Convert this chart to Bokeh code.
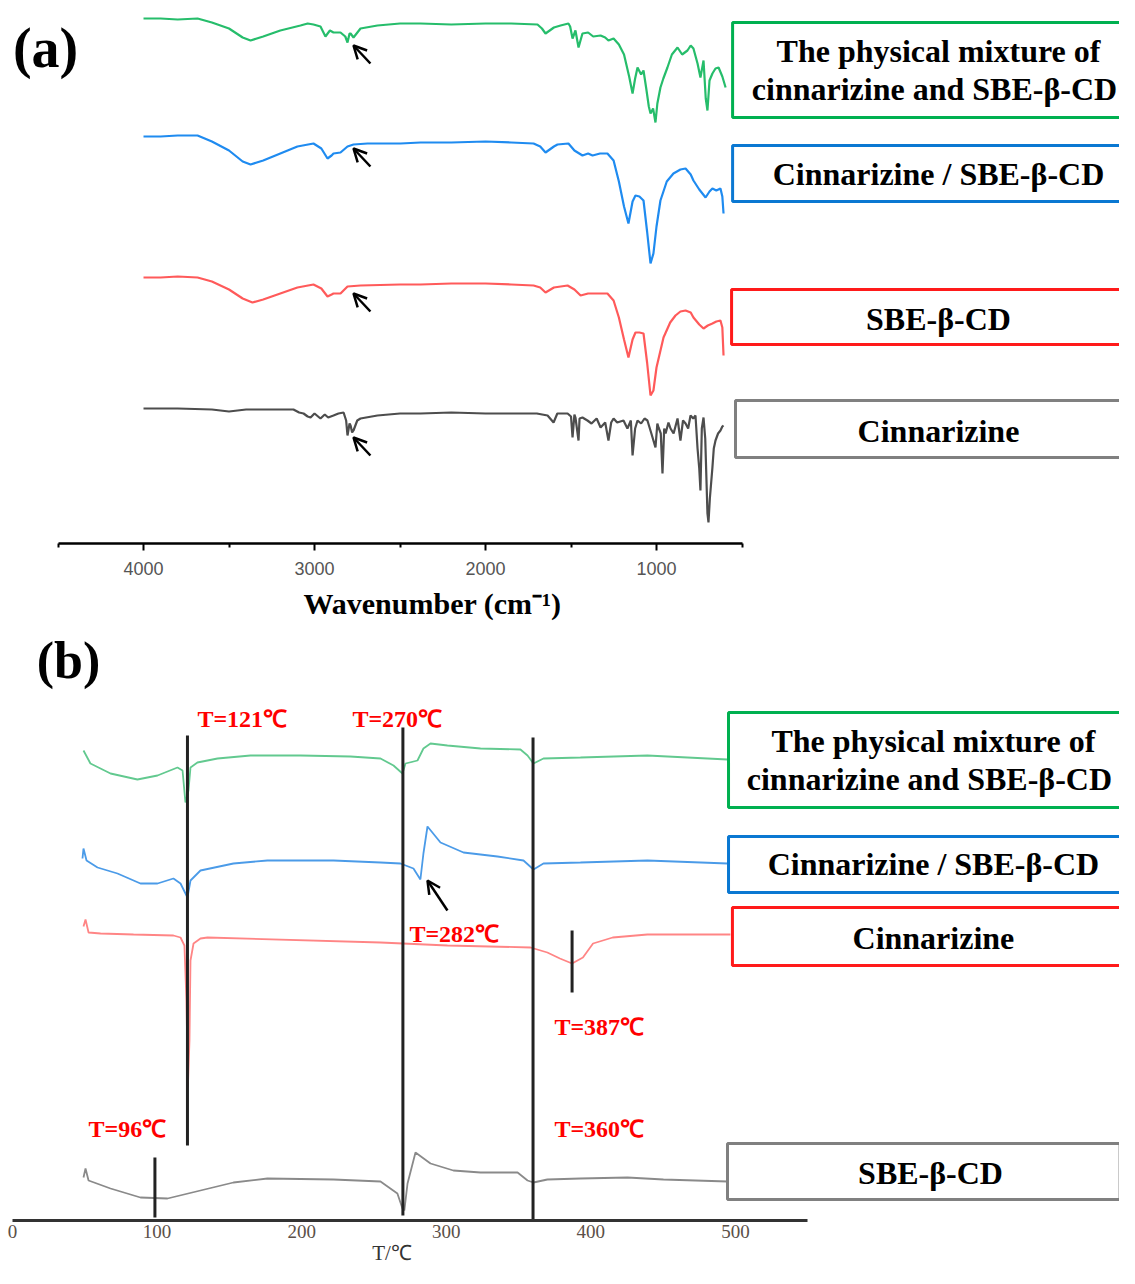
from bokeh.plotting import figure
from bokeh.layouts import column
from bokeh.models import Range1d, FixedTicker, Arrow, OpenHead
from bokeh.core.properties import value
from bokeh.embed import file_html
from bokeh.resources import INLINE

SERIF = value("Liberation Serif")

# ---------------- (a) FTIR spectra: wavenumber (cm-1), relative transmittance (a.u.)
mix_wn = [4000, 3900, 3800, 3684, 3600, 3500, 3420, 3374, 3300, 3200,
          3082, 3040, 3006, 2965, 2936, 2910, 2889, 2848, 2820, 2807,
          2795, 2789, 2772, 2731, 2632, 2500, 2380, 2200, 2000, 1850,
          1696, 1670, 1649, 1600, 1561, 1515, 1505, 1491, 1474, 1456,
          1433, 1400, 1370, 1327, 1300, 1281, 1251, 1220, 1190, 1160,
          1140, 1125, 1111, 1090, 1076, 1060, 1045, 1035, 1020, 1006,
          995, 977, 960, 936, 910, 877, 850, 819, 800, 784,
          760, 743, 725, 712, 702, 690, 673, 655, 637, 615,
          596]
mix_t = [0, 0, -1, 0, -4, -10, -19, -22, -18, -12,
         -7, -5, -6, -8, -18, -12, -14, -14, -18, -24,
         -15, -15, -19, -10, -7, -5, -5, -6, -5, -5,
         -6, -10, -15, -9, -7, -5, -8, -20, -12, -29,
         -15, -14, -18, -17, -19, -22, -20, -26, -36, -58,
         -75, -60, -49, -56, -52, -70, -88, -95, -90, -104,
         -85, -69, -60, -49, -36, -29, -36, -32, -27, -30,
         -45, -59, -42, -80, -92, -62, -55, -50, -49, -58,
         -69]

inc_wn = [4000, 3900, 3800, 3684, 3600, 3500, 3420, 3374, 3300, 3200,
          3100, 3006, 2960, 2924, 2900, 2889, 2848, 2807, 2772, 2690,
          2497, 2380, 2200, 2000, 1850, 1719, 1680, 1649, 1600, 1579,
          1515, 1480, 1433, 1400, 1374, 1330, 1287, 1251, 1220, 1190,
          1164, 1140, 1123, 1100, 1076, 1055, 1035, 1018, 1000, 977,
          940, 901, 860, 830, 800, 784, 750, 713, 690, 673,
          650, 626, 615, 608]
inc_t = [0, 0, 1, 1, -5, -14, -25, -28, -24, -17,
         -10, -7, -12, -22, -19, -17, -16, -10, -8, -7,
         -7, -6, -6, -5, -6, -7, -10, -16, -10, -8,
         -7, -14, -19, -17, -19, -17, -17, -24, -45, -70,
         -87, -65, -59, -60, -64, -95, -127, -117, -90, -64,
         -45, -37, -33, -32, -38, -44, -53, -61, -55, -52,
         -54, -52, -60, -77]

sbe_wn = [4000, 3900, 3800, 3684, 3600, 3500, 3420, 3363, 3300, 3200,
          3100, 3006, 2960, 2924, 2900, 2889, 2848, 2807, 2731, 2500,
          2380, 2200, 2000, 1850, 1719, 1680, 1649, 1600, 1520, 1480,
          1444, 1400, 1330, 1287, 1251, 1220, 1190, 1164, 1140, 1123,
          1100, 1076, 1055, 1035, 1018, 1000, 959, 920, 889, 860,
          830, 800, 784, 750, 725, 700, 673, 650, 626, 615,
          608]
sbe_t = [0, 0, 1, 0, -4, -12, -21, -25, -22, -16,
         -10, -7, -11, -19, -17, -16, -16, -9, -8, -7,
         -7, -6, -6, -7, -8, -10, -15, -10, -8, -12,
         -18, -16, -16, -16, -23, -40, -62, -80, -62, -55,
         -55, -56, -85, -118, -113, -90, -60, -45, -38, -34,
         -33, -35, -40, -47, -51, -48, -46, -44, -43, -50,
         -78]

cin_wn = [4000, 3800, 3600, 3500, 3400, 3200, 3123, 3090, 3064, 3040,
          3023, 3000, 2965, 2940, 2920, 2889, 2860, 2830, 2815, 2807,
          2795, 2789, 2780, 2772, 2750, 2731, 2632, 2500, 2380, 2200,
          2000, 1800, 1700, 1637, 1602, 1580, 1520, 1500, 1491, 1480,
          1474, 1456, 1450, 1433, 1404, 1380, 1350, 1327, 1300, 1281,
          1265, 1251, 1230, 1193, 1170, 1150, 1140, 1125, 1111, 1090,
          1070, 1053, 1030, 1006, 995, 988, 975, 965, 955, 947,
          930, 918, 900, 877, 860, 845, 830, 815, 801, 785,
          772, 760, 750, 743, 735, 725, 715, 702, 696, 688,
          673, 665, 655, 640, 626, 615, 608]
cin_t = [0, 0, -1, -3, -1, -1, -1, -4, -5, -8,
         -9, -5, -10, -6, -9, -7, -5, -4, -12, -27,
         -15, -17, -24, -22, -12, -10, -7, -5, -5, -4,
         -5, -5, -5, -7, -14, -5, -5, -8, -29, -6,
         -9, -32, -10, -9, -12, -15, -10, -19, -14, -32,
         -14, -10, -14, -12, -20, -12, -47, -20, -12, -15,
         -10, -12, -25, -39, -15, -19, -25, -65, -20, -25,
         -14, -20, -25, -10, -32, -12, -15, -20, -7, -10,
         -7, -40, -60, -82, -20, -9, -30, -105, -114, -90,
         -59, -40, -32, -25, -22, -18, -17]

ftir_lines = [["The physical mixture of", "cinnarizine  and SBE-\u03b2-CD"],
              ["Cinnarizine / SBE-\u03b2-CD"], ["SBE-\u03b2-CD"], ["Cinnarizine"]]
ftir_offsets = [525, 407, 266, 135]
ftir_colors = ["#26bd6b", "#1f8bf0", "#ff5a5a", "#4d4d4d"]
ftir_box_colors = ["#00b050", "#0a78d2", "#ff1a1a", "#808080"]
ftir_ticks = [1000, 2000, 3000, 4000]
ftir_minor = [500, 1500, 2500, 3500, 4500]

# ---------------- (b) DSC curves: temperature (C), relative heat flow (a.u.)
dmix_T = [49.1, 53.9, 67.8, 86.4, 100.3, 114.1, 117.6, 119.6, 121.7, 123.1,
          127.9, 141.8, 164.6, 199.2, 233.7, 254.5, 263.5, 269.7, 271.8, 280.1,
          284.2, 289.1, 300.8, 323.7, 351.3, 356.2, 360.3, 367.2, 392.8, 439.1,
          494.5]
dmix_h = [0, -13, -23, -29, -25, -17, -20, -52, -40, -17,
          -12, -8, -5, -5, -6, -8, -15, -23, -13, -10,
          2, 7, 5, 2, 1, -5, -13, -8, -7, -5,
          -9]
dinc_T = [48.4, 49.1, 51.2, 58.8, 72.6, 88.5, 100.3, 111.3, 116.2, 121.0,
          123.1, 130.0, 152.8, 176.3, 222.0, 254.5, 268.3, 277.3, 282.1, 284.2,
          287.0, 296.0, 311.9, 335.4, 353.4, 360.3, 367.2, 392.8, 439.1, 494.5]
dinc_h = [0, 10, -2, -9, -15, -25, -25, -20, -25, -39,
          -22, -12, -5, -2, -2, -4, -5, -10, -21, 5,
          32, 16, 6, 2, -2, -11, -5, -4, -2, -5]
dcin_T = [49.1, 50.5, 52.6, 60.9, 83.7, 111.3, 116.2, 118.9, 120.3, 121.3,
          122.4, 123.1, 125.2, 130.0, 134.9, 254.5, 300.8, 358.3, 369.9, 378.6,
          387.0, 394.5, 401.5, 415.1, 439.1, 496.5]
dcin_h = [0, 7, -6, -7, -8, -9, -11, -19, -74, -161,
          -114, -34, -17, -12, -11, -16, -19, -21, -26, -32,
          -37, -31, -17, -11, -8, -8]
dsbe_T = [49.1, 50.5, 52.6, 67.8, 88.5, 107.2, 130.0, 152.8, 176.3, 222.0,
          254.5, 266.2, 269.7, 271.0, 273.2, 278.7, 289.1, 304.9, 323.7, 349.3,
          356.2, 360.3, 369.9, 392.8, 425.3, 450.2, 494.5]
dsbe_h = [0, 9, -3, -11, -20, -21, -13, -5, -1, -2,
          -4, -16, -31, -33, -6, 25, 14, 7, 5, 5,
          -3, -5, -2, -1, 0, -2, -4]

dsc_lines = [["The physical mixture of", "cinnarizine  and SBE-\u03b2-CD"],
             ["Cinnarizine / SBE-\u03b2-CD"], ["Cinnarizine"], ["SBE-\u03b2-CD"]]
dsc_offsets = [470, 362, 294, 43]
dsc_colors = ["#62c98f", "#4b9be8", "#ff8585", "#8a8a8a"]
dsc_box_colors = ["#00b050", "#0a78d2", "#ff1a1a", "#808080"]
dsc_ticks = [0, 100, 200, 300, 400, 500]

peak_T = [121, 270, 360, 387, 98.5]
peak_top = [485, 493, 483, 290, 63]
peak_bot = [75, 5, 0, 228, 3]
peak_labels = ["T=121\u2103", "T=270\u2103", "T=282\u2103", "T=387\u2103", "T=96\u2103", "T=360\u2103"]
peak_lab_T = [127.9, 235.1, 274.5, 374.8, 52.6, 374.8]
peak_lab_y = [502, 502, 287, 194, 92, 92]

EM = "\u2003"
EN = "\u2002"

# ================= panel (a) =================
pa = figure(width=1119, height=626, x_range=Range1d(4836.3, -1707.6), y_range=Range1d(0, 543),
            y_axis_location=None, output_backend="svg", toolbar_location=None,
            min_border_left=0, min_border_right=0, min_border_top=0, min_border_bottom=83)
pa.grid.visible = False
pa.outline_line_color = None

spectra = [(mix_wn, mix_t), (inc_wn, inc_t), (sbe_wn, sbe_t), (cin_wn, cin_t)]
for (wn, t), off, c in zip(spectra, ftir_offsets, ftir_colors):
    pa.line(wn, [v + off for v in t], line_color=c, line_width=2.2)

# legend boxes
pa.quad(left=[555, 555, 561, 538], right=[-2000] * 4, top=[521, 398, 254, 143],
        bottom=[426, 342, 199, 86], fill_color="white", line_color=ftir_box_colors, line_width=3)
pa.text(x=[-649] * 5, y=[493, 455, 370, 225, 113],
        text=[s for lines in ftir_lines for s in lines],
        text_font=SERIF, text_font_style="bold", text_font_size="32px",
        text_align="center", text_baseline="middle", text_color="black")
pa.text(x=[4573], y=[496], text=["(a)"], text_font=SERIF, text_font_style="bold",
        text_font_size="56px", text_align="center", text_baseline="middle", text_color="black")

for yh in [498, 395, 250, 106]:
    pa.add_layout(Arrow(end=OpenHead(size=13, line_width=2.5, line_color="black"),
                        x_start=2673, y_start=yh - 18, x_end=2772, y_end=yh,
                        line_width=2.5, line_color="black"))

ax = pa.xaxis[0]
ax.ticker = FixedTicker(ticks=ftir_ticks, minor_ticks=ftir_minor)
ax.bounds = (500, 4500)
ax.axis_line_width = 2.5
ax.axis_line_color = "black"
ax.major_tick_out = 7
ax.major_tick_in = 0
ax.major_tick_line_width = 2
ax.minor_tick_out = 4
ax.minor_tick_in = 0
ax.minor_tick_line_width = 2
ax.minor_tick_line_color = "black"
ax.major_label_text_font = "Liberation Sans"
ax.major_label_text_font_size = "18px"
ax.major_label_text_color = "#555555"
ax.major_label_standoff = 11
ax.axis_label = "Wavenumber (cm\u207b\u00b9)" + EM * 8 + EN
ax.axis_label_text_font = "Liberation Serif"
ax.axis_label_text_font_style = "bold"
ax.axis_label_text_font_size = "30px"
ax.axis_label_text_color = "black"
ax.axis_label_standoff = 9

# ================= panel (b) =================
pb = figure(width=1119, height=642, x_range=Range1d(-8.30, 765.6), y_range=Range1d(0, 594),
            y_axis_location=None, output_backend="svg", toolbar_location=None,
            min_border_left=0, min_border_right=0, min_border_top=0, min_border_bottom=48)
pb.grid.visible = False
pb.outline_line_color = None

curves = [(dmix_T, dmix_h), (dinc_T, dinc_h), (dcin_T, dcin_h), (dsbe_T, dsbe_h)]
for (T, h), off, c in zip(curves, dsc_offsets, dsc_colors):
    pb.line(T, [v + off for v in h], line_color=c, line_width=1.8)

pb.segment(x0=peak_T, y0=peak_bot, x1=peak_T, y1=peak_top, line_color="#222222", line_width=3)

pb.quad(left=[495.2, 495.2, 497.9, 494.5], right=[900, 900, 900, 766], top=[508, 384, 313, 77],
        bottom=[413, 328, 255, 21], fill_color="white", line_color=dsc_box_colors, line_width=3)
pb.text(x=[636.9, 636.9, 636.9, 636.9, 634.9], y=[480, 442, 357, 283, 48],
        text=[s for lines in dsc_lines for s in lines],
        text_font=SERIF, text_font_style="bold", text_font_size="32px",
        text_align="center", text_baseline="middle", text_color="black")
pb.text(x=peak_lab_T, y=peak_lab_y, text=peak_labels, text_font=SERIF, text_font_style="bold",
        text_font_size="24px", text_align="left", text_baseline="middle", text_color="#ff0000")
pb.text(x=[38.7], y=[560], text=["(b)"], text_font=SERIF, text_font_style="bold",
        text_font_size="52px", text_align="center", text_baseline="middle", text_color="black")
pb.add_layout(Arrow(end=OpenHead(size=13, line_width=2.5, line_color="black"),
                    x_start=300.8, y_start=310, x_end=287.0, y_end=340,
                    line_width=2.5, line_color="black"))

bx = pb.xaxis[0]
bx.ticker = FixedTicker(ticks=dsc_ticks)
bx.bounds = (0, 550)
bx.axis_line_width = 3
bx.axis_line_color = "#333333"
bx.major_tick_out = 0
bx.major_tick_in = 0
bx.major_tick_line_color = None
bx.minor_tick_line_color = None
bx.major_label_text_font = "Liberation Serif"
bx.major_label_text_font_size = "19px"
bx.major_label_text_color = "#5b5048"
bx.major_label_standoff = 4
bx.axis_label = "T/\u2103" + EM * 16
bx.axis_label_text_font = "Liberation Serif"
bx.axis_label_text_font_style = "normal"
bx.axis_label_text_font_size = "21px"
bx.axis_label_text_color = "#333333"
bx.axis_label_standoff = 0

layout = column(pa, pb, spacing=0)
open("out.html", "w").write(file_html(layout, INLINE))
